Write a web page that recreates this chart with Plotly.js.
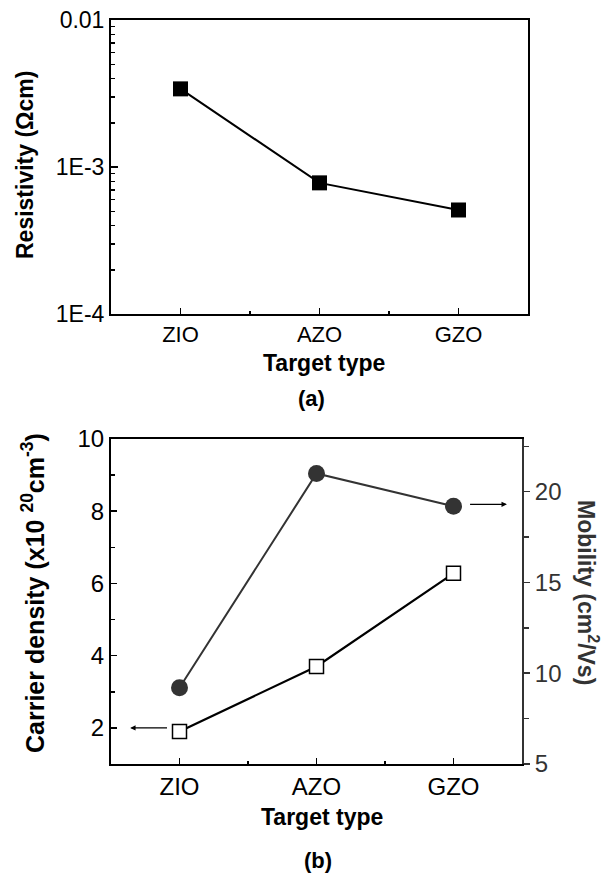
<!DOCTYPE html>
<html><head><meta charset="utf-8">
<script src="https://cdn.plot.ly/plotly-3.0.1.min.js"></script>
<style>html,body{margin:0;padding:0;background:#fff}#chart{width:616px;height:873px}</style>
</head><body><div id="chart"></div>
<script>
// ---- data ----
const categories = ["ZIO", "AZO", "GZO"];
const resistivity = [3.4e-3, 7.8e-4, 5.1e-4];      // Ω·cm
const carrierDensity = [1.9, 3.7, 6.28];           // x10^20 cm^-3
const mobility = [9.2, 21.0, 19.2];                // cm^2/Vs
const resTickExp = [-4, -3, -2];
const resTickText = ["1E-4", "1E-3", "0.01"];

// ---- helpers ----
const W = 616, H = 873;
const px = v => v / W;
const py = v => 1 - v / H;
const idx = categories.map((c, i) => i);
const FONT = "Liberation Sans, Arial, sans-serif";

const catAlias = {};
idx.forEach(i => { catAlias[String(i)] = categories[i]; });
const resAlias = {};
resTickExp.forEach((p, i) => {
  resAlias["1E\u2212" + Math.abs(p)] = resTickText[i];
  resAlias["1E-" + Math.abs(p)] = resTickText[i];
});

const traces = [
  {x: idx, y: resistivity, xaxis: "x", yaxis: "y", mode: "lines+markers",
   line: {color: "#000", width: 2},
   marker: {symbol: "square", size: 15, color: "#000"}},
  {x: idx, y: mobility, xaxis: "x2", yaxis: "y3", mode: "lines+markers",
   line: {color: "#333", width: 2},
   marker: {symbol: "circle", size: 17, color: "#333"}},
  {x: idx, y: carrierDensity, xaxis: "x2", yaxis: "y2", mode: "lines+markers",
   line: {color: "#000", width: 2.2},
   marker: {symbol: "square", size: 14, color: "#fff", line: {color: "#000", width: 1.5}}}
];

const xCommon = {
  range: [-0.5, 2.5], tickmode: "linear", tick0: 0, dtick: 1, labelalias: catAlias,
  ticks: "inside", ticklen: 6, tickwidth: 1.5, tickcolor: "#000",
  showline: true, linecolor: "#000", linewidth: 2, mirror: true,
  showgrid: false, zeroline: false,
  tickfont: {family: FONT, size: 22, color: "#000"},
  minor: {dtick: 0.5, tick0: 0, ticks: "inside", ticklen: 3, tickwidth: 1.5, tickcolor: "#000", showgrid: false}
};

const layout = {
  width: W, height: H,
  margin: {l: 0, r: 0, t: 0, b: 0},
  paper_bgcolor: "#fff", plot_bgcolor: "#fff",
  showlegend: false,
  font: {family: FONT, color: "#000"},
  xaxis: Object.assign({}, xCommon, {domain: [px(111), px(528)], anchor: "y"}),
  yaxis: {
    domain: [py(314), py(20)], anchor: "x", type: "log", range: [-4, -2],
    tickmode: "linear", tick0: 0, dtick: 1, exponentformat: "E", labelalias: resAlias,
    ticks: "inside", ticklen: 7, tickwidth: 1.5, tickcolor: "#000",
    showline: true, linecolor: "#000", linewidth: 2, mirror: true,
    showgrid: false, zeroline: false,
    tickfont: {family: FONT, size: 23, color: "#000"},
    minor: {dtick: "D1", ticks: "inside", ticklen: 4, tickwidth: 1.5, tickcolor: "#000", showgrid: false}
  },
  xaxis2: Object.assign({}, xCommon, {domain: [px(111), px(522)], anchor: "y2",
    tickfont: {family: FONT, size: 24, color: "#000"}}),
  yaxis2: {
    domain: [py(764), py(439)], anchor: "x2", range: [1, 10],
    tick0: 0, dtick: 2, ticks: "inside", ticklen: 6, tickwidth: 1.5, tickcolor: "#000",
    showline: true, linecolor: "#000", linewidth: 2, mirror: false,
    showgrid: false, zeroline: false,
    tickfont: {family: FONT, size: 24, color: "#000"},
    minor: {dtick: 1, tick0: 0, ticks: "inside", ticklen: 4, tickwidth: 1.5, tickcolor: "#000", showgrid: false}
  },
  yaxis3: {
    overlaying: "y2", side: "right", anchor: "x2", range: [5, 22.9],
    tick0: 0, dtick: 5, ticks: "outside", ticklen: 6, tickwidth: 1.5, tickcolor: "#333",
    showline: true, linecolor: "#333", linewidth: 2,
    showgrid: false, zeroline: false,
    tickfont: {family: FONT, size: 24, color: "#333"},
    minor: {dtick: 2.5, tick0: 0, ticks: "outside", ticklen: 5, tickwidth: 1.5, tickcolor: "#333", showgrid: false}
  },
  annotations: [
    {text: "Resistivity (\u03A9cm)", xref: "paper", yref: "paper", x: px(25), y: py(165),
     textangle: -90, showarrow: false, xanchor: "center", yanchor: "middle",
     font: {family: FONT, size: 23, weight: "bold", color: "#000"}},
    {text: "Target type", xref: "paper", yref: "paper", x: px(324), y: py(363),
     showarrow: false, xanchor: "center", yanchor: "middle",
     font: {family: FONT, size: 23, weight: "bold", color: "#000"}},
    {text: "(a)", xref: "paper", yref: "paper", x: px(312), y: py(399),
     showarrow: false, xanchor: "center", yanchor: "middle",
     font: {family: FONT, size: 22, weight: "bold", color: "#000"}},
    {text: "Carrier density (x10 <sup>20</sup>cm<sup>-3</sup>)", xref: "paper", yref: "paper", x: px(33), y: py(593),
     textangle: -90, showarrow: false, xanchor: "center", yanchor: "middle",
     font: {family: FONT, size: 25, weight: "bold", color: "#000"}},
    {text: "Mobility (cm<sup>2</sup>/Vs)", xref: "paper", yref: "paper", x: px(588), y: py(592),
     textangle: 90, showarrow: false, xanchor: "center", yanchor: "middle",
     font: {family: FONT, size: 23, weight: "bold", color: "#333"}},
    {text: "Target type", xref: "paper", yref: "paper", x: px(322), y: py(817),
     showarrow: false, xanchor: "center", yanchor: "middle",
     font: {family: FONT, size: 23, weight: "bold", color: "#000"}},
    {text: "(b)", xref: "paper", yref: "paper", x: px(318), y: py(860),
     showarrow: false, xanchor: "center", yanchor: "middle",
     font: {family: FONT, size: 22, weight: "bold", color: "#000"}},
    // arrows pointing to the respective axes
    {text: "", xref: "x2", yref: "y2", axref: "x2", ayref: "y2",
     x: idx[0] - 0.36, y: 2, ax: idx[0] - 0.08, ay: 2,
     showarrow: true, arrowhead: 2, arrowsize: 0.9, arrowwidth: 1.2, arrowcolor: "#000"},
    {text: "", xref: "x2", yref: "y3", axref: "x2", ayref: "y3",
     x: idx[2] + 0.39, y: mobility[2] + 0.1, ax: idx[2] + 0.11, ay: mobility[2] + 0.1,
     showarrow: true, arrowhead: 2, arrowsize: 0.9, arrowwidth: 1.2, arrowcolor: "#000"}
  ]
};

Plotly.newPlot("chart", traces, layout, {staticPlot: true, displayModeBar: false});
</script>
</body></html>
